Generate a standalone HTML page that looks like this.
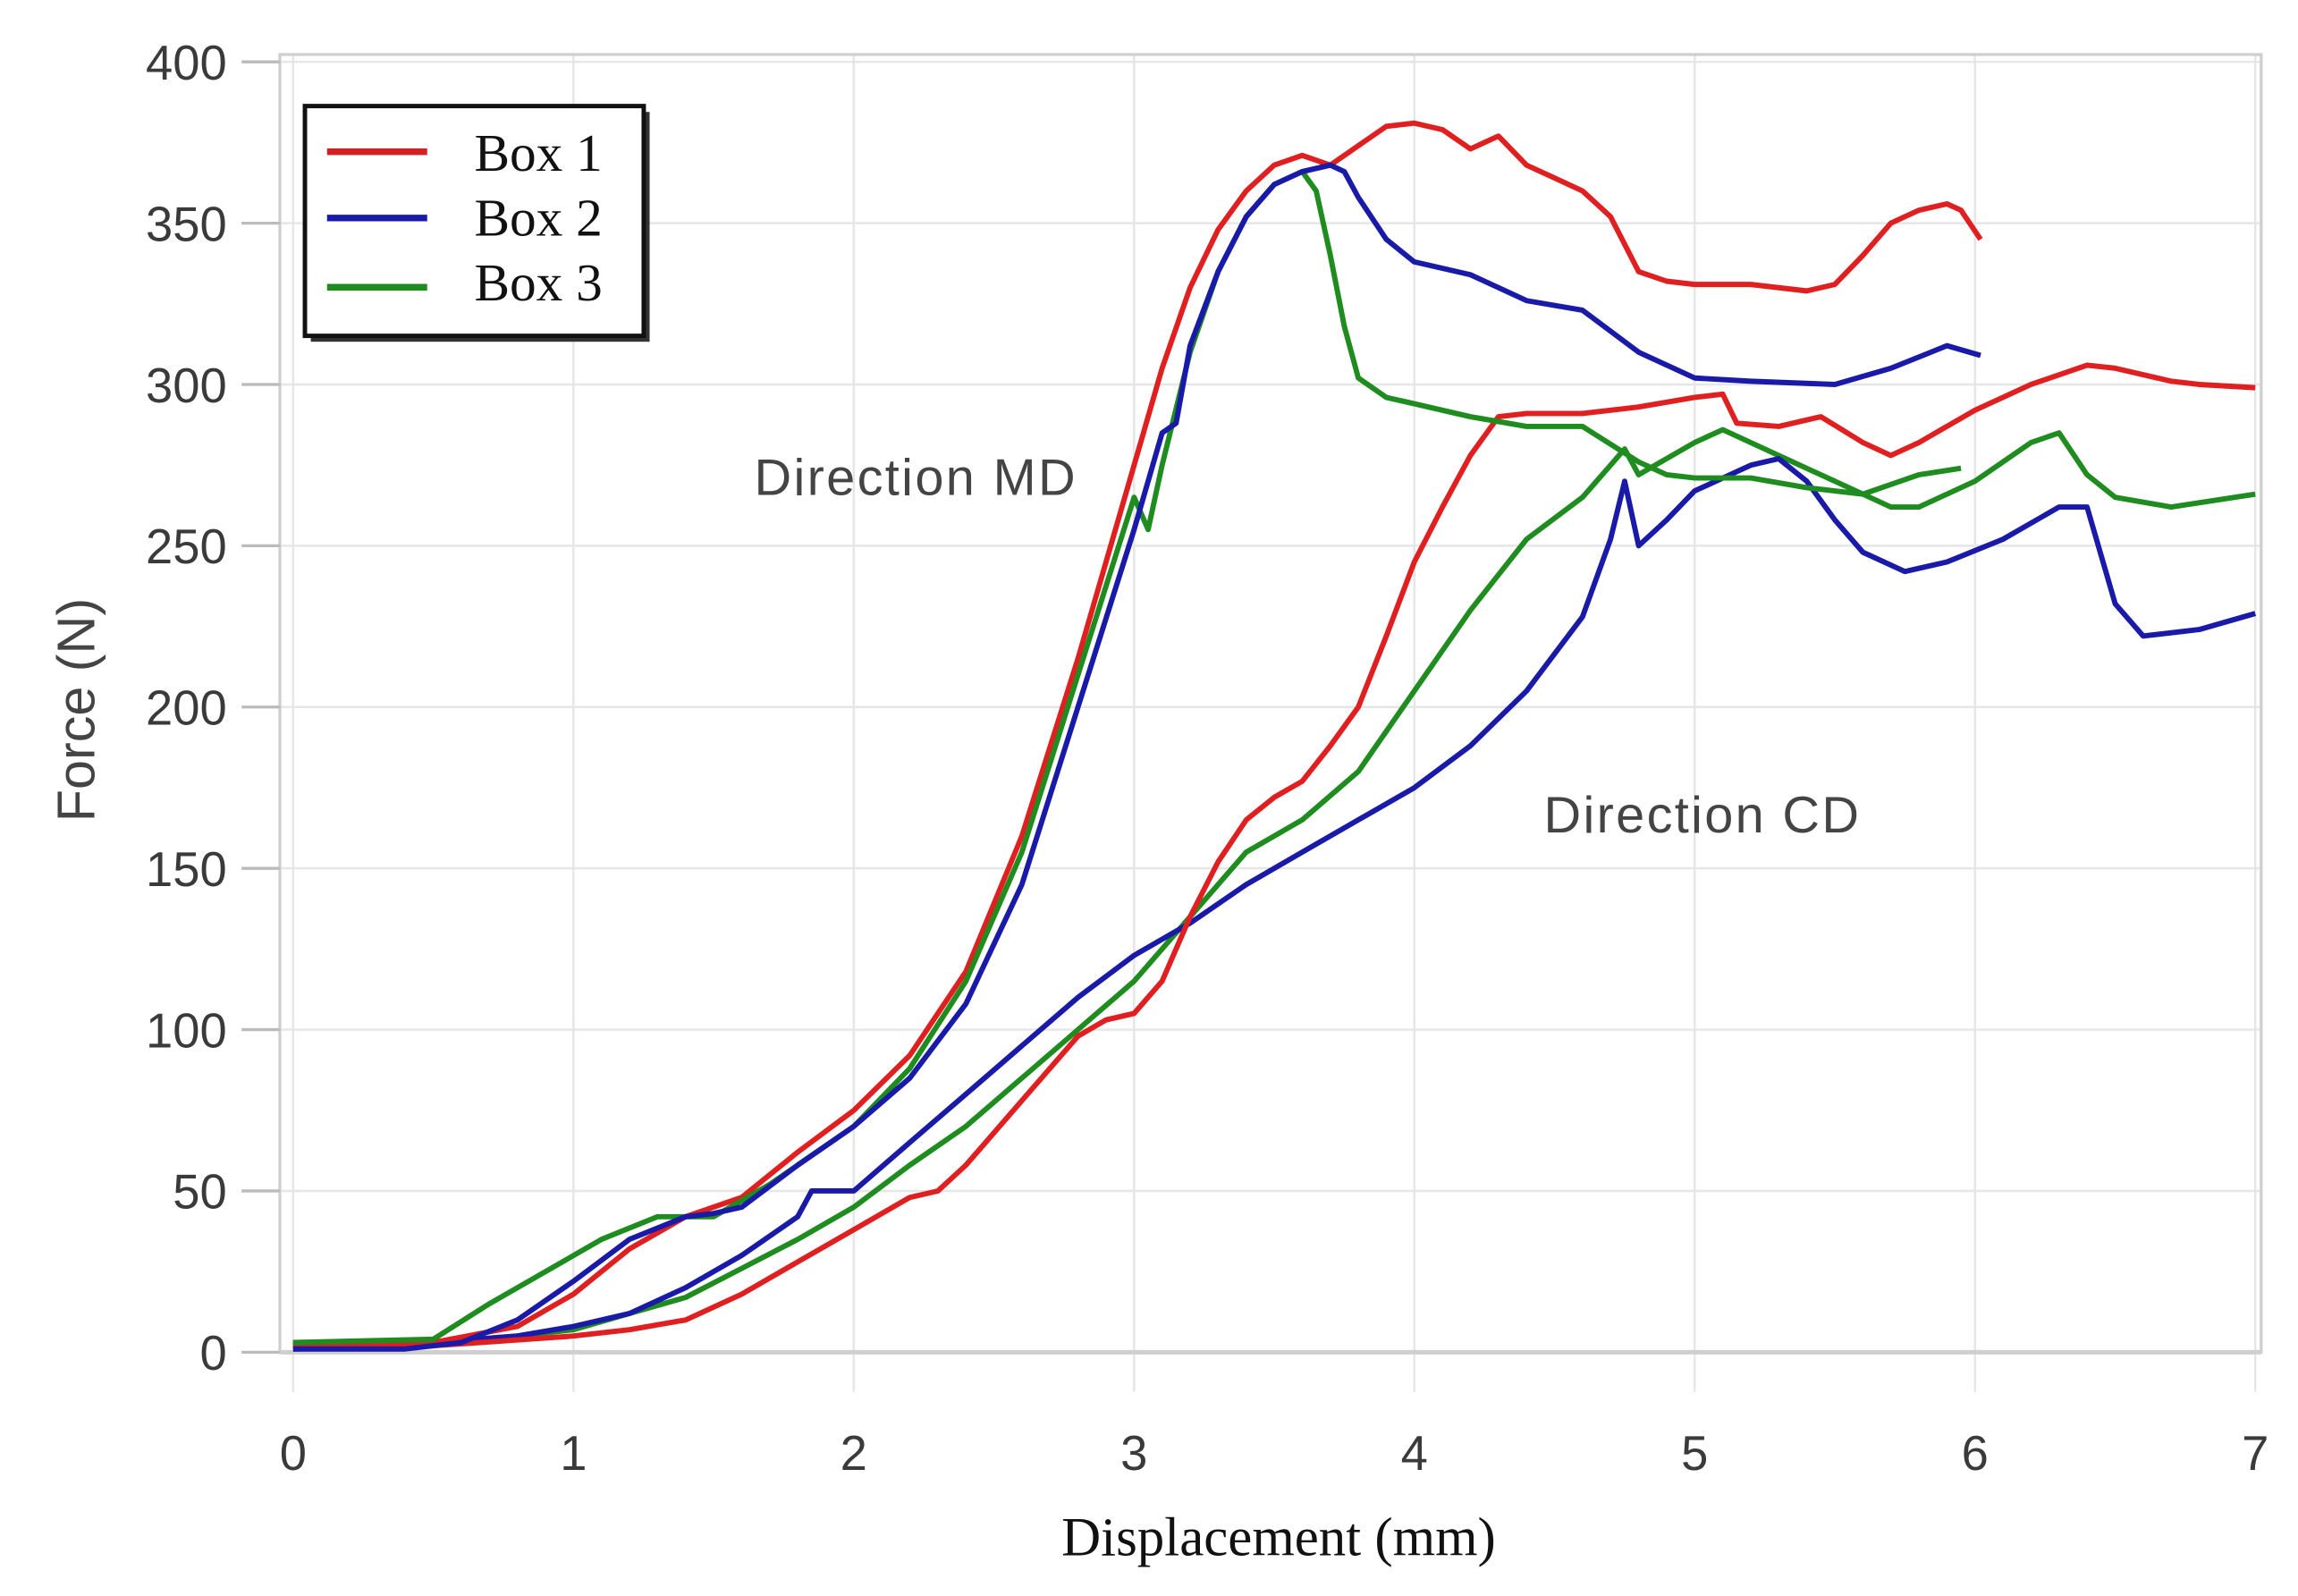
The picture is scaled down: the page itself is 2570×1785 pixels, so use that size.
<!DOCTYPE html>
<html><head><meta charset="utf-8">
<style>
html,body{margin:0;padding:0;background:#fff;}
svg{display:block;}
</style></head>
<body>
<svg id="chart" width="2570" height="1785" viewBox="0 0 1560 1083.5" preserveAspectRatio="none" xmlns="http://www.w3.org/2000/svg">
<g id="grid"></g>
<rect x="190" y="37" width="1345" height="881" fill="none" stroke="#cfcfcf" stroke-width="2"/>
<g id="yticks"></g>
<g id="xticks"></g>
<g id="series"></g>
<text transform="translate(64,482) rotate(-90)" text-anchor="middle" font-family="Liberation Sans, sans-serif" font-size="36" fill="#444">Force (N)</text>
<text x="868" y="1056" text-anchor="middle" font-family="Liberation Serif, serif" font-size="37" fill="#111">Displacement (mm)</text>
<text x="512" y="336" font-family="Liberation Sans, sans-serif" font-size="35" fill="#444" textLength="218">Direction MD</text>
<text x="1048" y="565" font-family="Liberation Sans, sans-serif" font-size="35" fill="#444" textLength="214">Direction CD</text>
<g>
<rect x="211" y="76" width="230" height="156" fill="#333"/>
<rect x="207" y="72" width="230" height="156" fill="#fff" stroke="#111" stroke-width="3"/>
<line x1="222" y1="103" x2="290" y2="103" stroke="#d42020" stroke-width="4.5"/>
<line x1="222" y1="148" x2="290" y2="148" stroke="#1a1aa8" stroke-width="4.5"/>
<line x1="222" y1="195" x2="290" y2="195" stroke="#1e8c1e" stroke-width="4.5"/>
<text x="322" y="116" font-family="Liberation Serif, serif" font-size="36" fill="#111">Box 1</text>
<text x="322" y="160" font-family="Liberation Serif, serif" font-size="36" fill="#111">Box 2</text>
<text x="322" y="204" font-family="Liberation Serif, serif" font-size="36" fill="#111">Box 3</text>
</g>
</svg>
<script>
const xTicks = [0,1,2,3,4,5,6,7];
const yTicks = [0,50,100,150,200,250,300,350,400];
const box1MD = [[0,2],[0.5,3],[0.8,8],[1.0,18],[1.2,32],[1.4,42],[1.6,48],[1.8,62],[2.0,75],[2.2,92],[2.4,118],[2.6,160],[2.8,215],[3.0,275],[3.1,305],[3.2,330],[3.3,348],[3.4,360],[3.5,368],[3.6,371],[3.7,368],[3.8,374],[3.9,380],[4.0,381],[4.1,379],[4.2,373],[4.3,377],[4.4,368],[4.5,364],[4.6,360],[4.7,352],[4.8,335],[4.9,332],[5.0,331],[5.2,331],[5.4,329],[5.5,331],[5.6,340],[5.7,350],[5.8,354],[5.9,356],[5.95,354],[6.02,345]];
const box2MD = [[0,1],[0.4,1],[0.6,3],[0.8,10],[1.0,22],[1.2,35],[1.4,42],[1.5,43],[1.6,45],[1.8,58],[2.0,70],[2.2,85],[2.4,108],[2.6,145],[2.8,200],[3.0,255],[3.1,285],[3.15,288],[3.2,312],[3.3,335],[3.4,352],[3.5,362],[3.6,366],[3.7,368],[3.75,366],[3.8,358],[3.9,345],[4.0,338],[4.2,334],[4.4,326],[4.6,323],[4.8,310],[5.0,302],[5.2,301],[5.5,300],[5.7,305],[5.9,312],[6.02,309]];
const box3MD = [[0,3],[0.5,4],[0.7,15],[0.9,25],[1.1,35],[1.3,42],[1.5,42],[1.7,52],[2.0,70],[2.2,88],[2.4,115],[2.6,155],[2.8,210],[3.0,265],[3.05,255],[3.1,275],[3.2,310],[3.3,335],[3.4,352],[3.5,362],[3.6,366],[3.65,360],[3.7,340],[3.75,318],[3.8,302],[3.9,296],[4.0,294],[4.2,290],[4.4,287],[4.6,287],[4.8,276],[4.9,272],[5.0,271],[5.2,271],[5.4,268],[5.6,266],[5.8,272],[5.95,274]];
const box1CD = [[0,1],[0.5,2],[1.0,5],[1.2,7],[1.4,10],[1.6,18],[1.8,28],[2.0,38],[2.2,48],[2.3,50],[2.4,58],[2.6,78],[2.8,98],[2.9,103],[3.0,105],[3.1,115],[3.2,135],[3.3,152],[3.4,165],[3.5,172],[3.6,177],[3.7,188],[3.8,200],[3.9,222],[4.0,245],[4.1,262],[4.2,278],[4.3,290],[4.4,291],[4.6,291],[4.8,293],[5.0,296],[5.1,297],[5.15,288],[5.3,287],[5.45,290],[5.6,282],[5.7,278],[5.8,282],[6.0,292],[6.2,300],[6.4,306],[6.5,305],[6.7,301],[6.8,300],[7.0,299]];
const box2CD = [[0,3],[0.5,3],[0.8,5],[1.0,8],[1.2,12],[1.4,20],[1.6,30],[1.8,42],[1.85,50],[2.0,50],[2.2,65],[2.4,80],[2.6,95],[2.8,110],[3.0,123],[3.2,133],[3.4,145],[3.6,155],[3.8,165],[4.0,175],[4.2,188],[4.4,205],[4.6,228],[4.7,252],[4.75,270],[4.8,250],[4.9,258],[5.0,267],[5.2,275],[5.3,277],[5.4,270],[5.5,258],[5.6,248],[5.75,242],[5.9,245],[6.1,252],[6.3,262],[6.4,262],[6.5,232],[6.6,222],[6.8,224],[7.0,229]];
const box3CD = [[0,2],[0.5,3],[0.8,5],[1.0,7],[1.2,12],[1.4,17],[1.6,26],[1.8,35],[2.0,45],[2.2,58],[2.4,70],[2.6,85],[2.8,100],[3.0,115],[3.2,135],[3.4,155],[3.6,165],[3.8,180],[4.0,205],[4.2,230],[4.4,252],[4.6,265],[4.7,275],[4.75,280],[4.8,272],[5.0,282],[5.1,286],[5.3,278],[5.5,270],[5.7,262],[5.8,262],[6.0,270],[6.2,282],[6.3,285],[6.4,272],[6.5,265],[6.7,262],[7.0,266]];

const NS = 'http://www.w3.org/2000/svg';
function xS(v){ return 199 + v * (1531 - 199) / 7; }
function yS(v){ return 918 - v * (918 - 42) / 400; }
const grid = document.getElementById('grid');
const yt = document.getElementById('yticks');
const xt = document.getElementById('xticks');
xTicks.forEach(function(t){
  const l = document.createElementNS(NS,'line');
  
  
  l.setAttribute('x1', xS(t)); l.setAttribute('x2', xS(t));
  l.setAttribute('y1', 37); l.setAttribute('y2', 945);
  l.setAttribute('stroke', '#e6e6e6'); l.setAttribute('stroke-width', '1.5');
  grid.appendChild(l);
  const tx = document.createElementNS(NS,'text');
  
  
  tx.setAttribute('x', xS(t)); tx.setAttribute('y', 998);
  tx.setAttribute('text-anchor', 'middle');
  tx.setAttribute('font-family', 'Liberation Sans, sans-serif');
  tx.setAttribute('font-size', '33'); tx.setAttribute('fill', '#3a3a3a');
  tx.textContent = t;
  xt.appendChild(tx);
});
yTicks.forEach(function(t){
  const l = document.createElementNS(NS,'line');
  
  
  l.setAttribute('x1', 190); l.setAttribute('x2', 1535);
  l.setAttribute('y1', yS(t)); l.setAttribute('y2', yS(t));
  l.setAttribute('stroke', t === 0 ? '#cfcfcf' : '#e6e6e6'); l.setAttribute('stroke-width', t === 0 ? '3' : '1.5');
  grid.appendChild(l);
  const tk = document.createElementNS(NS,'line');
  
  
  tk.setAttribute('x1', 164); tk.setAttribute('x2', 190);
  tk.setAttribute('y1', yS(t)); tk.setAttribute('y2', yS(t));
  tk.setAttribute('stroke', '#bbb'); tk.setAttribute('stroke-width', '2');
  yt.appendChild(tk);
  const tx = document.createElementNS(NS,'text');
  
  
  tx.setAttribute('x', 154); tx.setAttribute('y', yS(t) + 12);
  tx.setAttribute('text-anchor', 'end');
  tx.setAttribute('font-family', 'Liberation Sans, sans-serif');
  tx.setAttribute('font-size', '33'); tx.setAttribute('fill', '#3a3a3a');
  tx.textContent = t;
  yt.appendChild(tx);
});
const sg = document.getElementById('series');
function drawSeries(data, color, name){
  const p = document.createElementNS(NS,'path');
  
  
  p.setAttribute('d', data.map(function(d,i){ return (i ? 'L' : 'M') + xS(d[0]).toFixed(1) + ',' + yS(d[1]).toFixed(1); }).join(''));
  p.setAttribute('fill', 'none'); p.setAttribute('stroke', color);
  p.setAttribute('stroke-width', '3.6'); p.setAttribute('stroke-linejoin', 'round');
  sg.appendChild(p);
}
drawSeries(box3CD, '#1e8c1e', 'box3-cd-line');
drawSeries(box2CD, '#1a1aa8', 'box2-cd-line');
drawSeries(box1CD, '#e02020', 'box1-cd-line');
drawSeries(box1MD, '#e02020', 'box1-md-line');
drawSeries(box3MD, '#1e8c1e', 'box3-md-line');
drawSeries(box2MD, '#1a1aa8', 'box2-md-line');
</script>
</body></html>
